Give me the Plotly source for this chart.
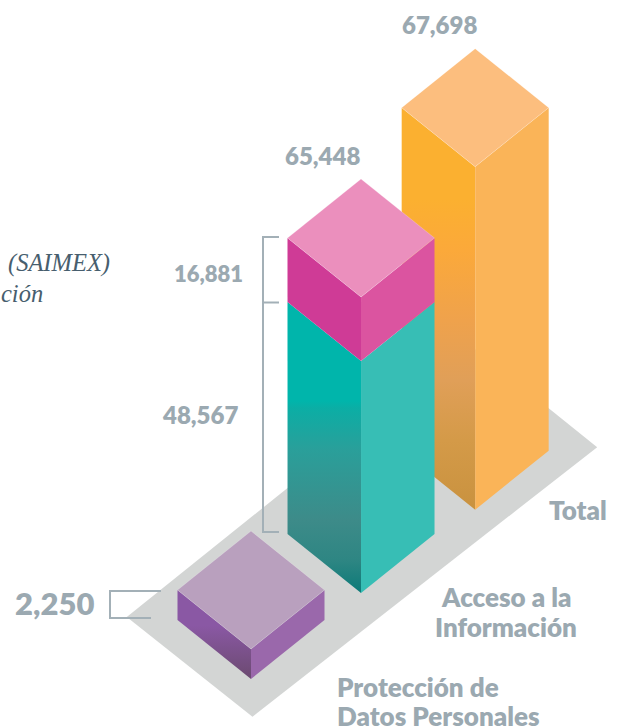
import plotly.graph_objects as go

# Data
categorias = [["Protección de", "Datos Personales"], ["Acceso a la", "Información"], ["Total"]]
valores_proteccion = [2250]
valores_acceso = [48567, 16881]
valores_total = [67698]
# Heights of the prisms as pictured (the picture is not drawn to one linear scale)
altura_proteccion = [30]
altura_acceso = [232, 64]
altura_total = [343]

W, H = 619, 726
HX, HY = 73.5, 59
OX, OY = 251, 47

# Vertical colour ramps for the left faces (position from the bottom of the face, colour)
RAMP_TOTAL = [[0, "#C9923F"], [0.172, "#D49A48"], [0.322, "#E09F58"], [0.471, "#EFA24C"],
              [0.646, "#FBA93A"], [0.771, "#FBB030"], [1, "#FBB030"]]
RAMP_ACCESO = [[0, "#0C7A78"], [0.113, "#2E8683"], [0.251, "#3D8B89"], [0.491, "#2A9F9A"],
               [0.636, "#0BAEA5"], [0.66, "#00B5AB"], [1, "#00B5AB"]]
RAMP_PROTECCION = [[0, "#6B4A70"], [0.6, "#8A58A4"], [1, "#8A58A4"]]


def project(a, b, h=0):
    return OX + (a - b) * HX, OY + (a + b) * HY + h


fig = go.Figure()


def poly(pts, color=None, ramp=None, line=None):
    xs = [p[0] for p in pts] + [pts[0][0]]
    ys = [p[1] for p in pts] + [pts[0][1]]
    kw = dict(x=xs, y=ys, mode="lines", fill="toself", hoverinfo="skip", showlegend=False)
    if ramp:
        kw["fillgradient"] = dict(type="vertical", colorscale=ramp)
        kw["fillcolor"] = ramp[-1][1]
    else:
        kw["fillcolor"] = color
    kw["line"] = dict(color=line or "rgba(0,0,0,0)", width=0.6 if line else 0)
    fig.add_trace(go.Scatter(**kw))


def prism(a, b, h0, h1, left, right, top=None, ramp=None):
    lb, fb, rb = project(a, b + 1, h0), project(a, b, h0), project(a + 1, b, h0)
    lt, ft, rt = project(a, b + 1, h1), project(a, b, h1), project(a + 1, b, h1)
    bk = project(a + 1, b + 1, h1)
    poly([lb, fb, ft, lt], color=left, ramp=ramp)
    poly([fb, rb, rt, ft], color=right)
    if top:
        poly([lt, ft, rt, bk], color=top, line="rgba(255,255,255,0.35)")


def bracket(pts):
    fig.add_trace(go.Scatter(x=[p[0] for p in pts], y=[H - p[1] for p in pts], mode="lines",
                             line=dict(color="#A3B0B7", width=2), hoverinfo="skip", showlegend=False))


# Floor
poly([project(-0.31, -0.33), project(4.32, -0.39), project(4.32, 1.37), project(-0.32, 1.37)], color="#D3D5D4")

# Total
prism(2.96, -0.09, 0, altura_total[0], "#FBB030", "#FAB458", "#FCBE7E", ramp=RAMP_TOTAL)
# Acceso
prism(1.477, -0.02, 0, altura_acceso[0], "#00B5AB", "#37BEB5", None, ramp=RAMP_ACCESO)
prism(1.477, -0.02, altura_acceso[0], altura_acceso[0] + altura_acceso[1],
      "#CF3B96", "#DB54A0", "#EB8FBD")
# Proteccion
prism(0, 0, 0, altura_proteccion[0], "#8A58A4", "#9A68AB", "#B9A0BE", ramp=RAMP_PROTECCION)

# Brackets
bracket([(279, 237), (263, 237), (263, 532), (279, 532)])
bracket([(263, 302.5), (279, 302.5)])
bracket([(161, 591), (110, 591), (110, 618), (151, 618)])


def label(x, y, text, size=24, anchor="center", color="#9BA9B1", family="Lato", weight=800, style="normal"):
    fig.add_annotation(x=x, y=H - y, text=text, showarrow=False, xanchor=anchor, yanchor="middle",
                       align="left" if anchor == "left" else "center",
                       font=dict(family=family, size=size, color=color, weight=weight, style=style))


label(439, 24, f"{valores_total[0]:,}")
label(322, 155, f"{sum(valores_acceso):,}")
label(208.5, 273, f"{valores_acceso[1]:,}", size=22)
label(200, 414, f"{valores_acceso[0]:,}")
label(54, 603, f"{valores_proteccion[0]:,}", size=31)
label(578, 510, categorias[2][0], size=26)
label(505.5, 597, categorias[1][0], size=26)
label(505.5, 627, categorias[1][1], size=26)
label(335, 687, categorias[0][0], size=26, anchor="left")
label(335, 716, categorias[0][1], size=26, anchor="left")
label(6, 263, "(SAIMEX)", size=24.5, anchor="left", color="#475E6E", family="Liberation Serif", weight=400, style="italic")
label(45, 293, "ción", size=24.5, anchor="right", color="#475E6E", family="Liberation Serif", weight=400, style="italic")

fig.update_layout(width=W, height=H, margin=dict(l=0, r=0, t=0, b=0),
                  plot_bgcolor="white", paper_bgcolor="white", showlegend=False,
                  xaxis=dict(range=[0, W], visible=False, fixedrange=True),
                  yaxis=dict(range=[0, H], visible=False, fixedrange=True))
fig.write_html("out.html", config={"displayModeBar": False},
               post_script="document.body.style.margin='0';document.body.style.overflow='hidden';")
